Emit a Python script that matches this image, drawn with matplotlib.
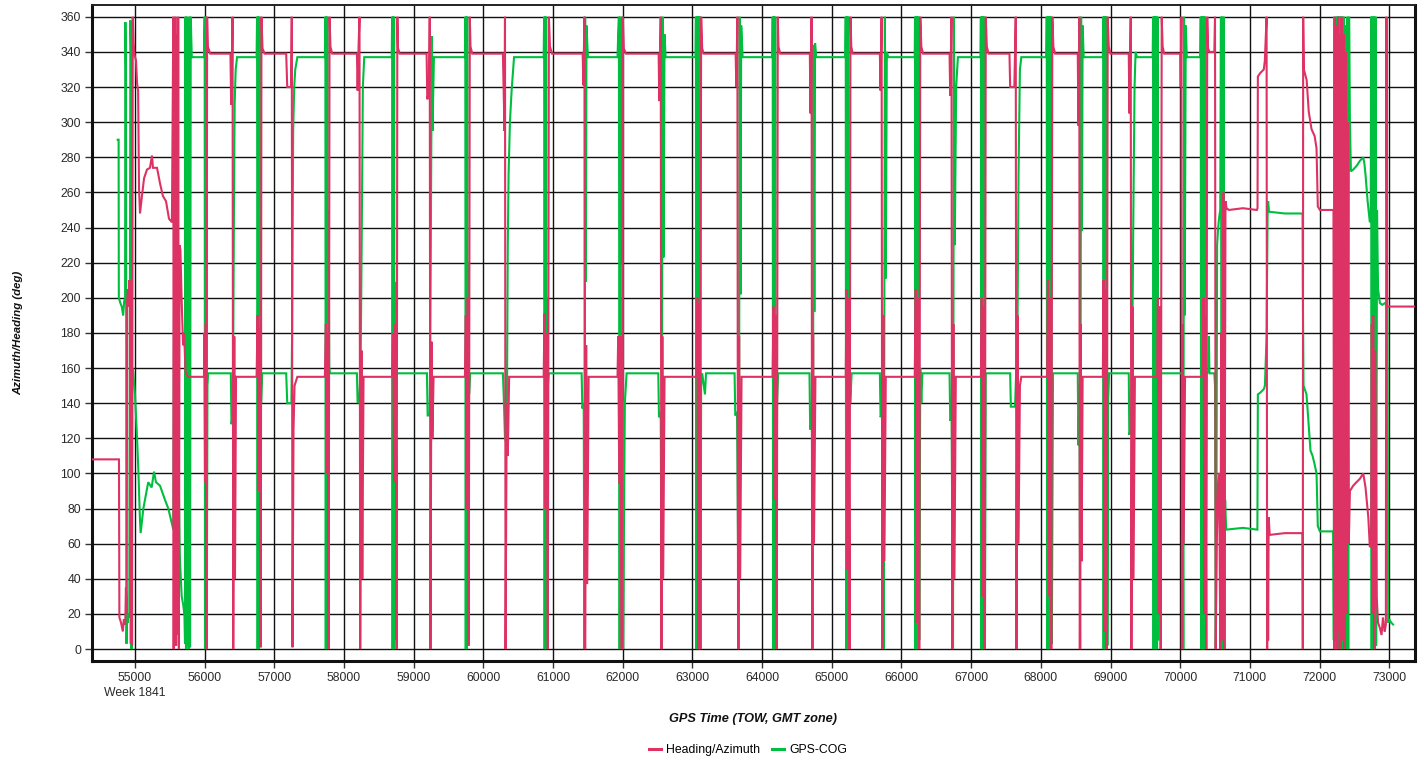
import matplotlib
matplotlib.use("Agg")
import matplotlib.pyplot as plt
import matplotlib.transforms as mtransforms
from matplotlib.lines import Line2D

plt.rcParams["font.family"] = ["Liberation Sans", "DejaVu Sans"]

# Heading/Azimuth trace as (GPS time of week, degrees)
heading = [
    (54383, 108), (54770, 108), (54776, 18), (54800, 15), (54825, 10), (54840, 17), (54860, 14),
    (54870, 35), (54880, 20), (54888, 198), (54900, 205), (54912, 195), (54920, 210), (54930, 200),
    (54940, 3), (54950, 205), (54958, 2), (54968, 360), (54980, 345), (54995, 338), (55015, 335),
    (55030, 322), (55045, 318), (55058, 262), (55072, 248), (55100, 258), (55130, 268), (55172, 273),
    (55215, 274), (55244, 281), (55258, 274), (55316, 274), (55360, 265), (55400, 258), (55445, 255),
    (55488, 245), (55530, 243),
    (55550, 360), (55555, 0), (55565, 355), (55572, 5), (55580, 360), (55590, 2), (55600, 350),
    (55610, 8), (55620, 360), (55630, 0), (55640, 230), (55652, 227), (55670, 198), (55690, 173),
    (55705, 180), (55725, 158), (55760, 155), (55990, 155),
    (55995, 180), (56005, 95), (56015, 185), (56025, 0), (56035, 360), (56045, 343), (56080, 339),
    (56370, 339), (56380, 310), (56392, 330), (56400, 360), (56410, 0), (56425, 178), (56435, 40), (56450, 155),
    (56745, 155), (56760, 190), (56775, 90), (56790, 183), (56805, 1), (56815, 360), (56830, 342), (56860, 339),
    (57170, 339), (57185, 320), (57240, 320), (57250, 360), (57260, 1), (57275, 125), (57290, 150), (57330, 155),
    (57725, 155), (57740, 185), (57752, 100), (57765, 180), (57780, 0), (57792, 360), (57805, 343), (57830, 339),
    (58185, 339), (58195, 318), (58210, 345), (58222, 360), (58232, 0), (58250, 170), (58262, 40), (58280, 155),
    (58690, 155), (58705, 180), (58718, 95), (58740, 185), (58755, 0), (58765, 360), (58775, 342), (58800, 339),
    (59185, 339), (59195, 313), (59220, 318), (59230, 360), (59240, 0), (59255, 175), (59268, 120), (59285, 155),
    (59735, 155), (59748, 190), (59760, 80), (59775, 200), (59790, 2), (59805, 360), (59815, 343), (59840, 339),
    (60280, 339), (60290, 321), (60303, 295), (60310, 360), (60318, 0), (60335, 140), (60350, 110), (60370, 155),
    (60865, 155), (60878, 191), (60890, 80), (60905, 180), (60925, 0), (60940, 360), (60955, 343), (60985, 339),
    (61425, 339), (61435, 321), (61450, 360), (61460, 0), (61475, 173), (61490, 37), (61510, 155),
    (61925, 155), (61935, 178), (61950, 94), (61965, 178), (61985, 0), (62000, 360), (62015, 342), (62045, 339),
    (62515, 339), (62525, 312), (62545, 360), (62555, 0), (62568, 178), (62580, 40), (62600, 155),
    (63055, 155), (63070, 200), (63085, 0), (63098, 197), (63110, 0), (63125, 360), (63140, 342), (63160, 339),
    (63620, 339), (63630, 320), (63645, 360), (63655, 0), (63670, 178), (63685, 40), (63705, 155),
    (64150, 155), (64165, 195), (64180, 85), (64195, 190), (64210, 0), (64225, 360), (64235, 343), (64260, 339),
    (64685, 339), (64695, 305), (64710, 360), (64718, 0), (64732, 180), (64745, 60), (64765, 155),
    (65200, 155), (65212, 205), (65225, 45), (65238, 200), (65255, 0), (65268, 360), (65280, 343), (65300, 339),
    (65690, 339), (65700, 318), (65715, 360), (65725, 0), (65740, 190), (65755, 50), (65775, 155),
    (66190, 155), (66205, 205), (66220, 15), (66235, 200), (66255, 0), (66270, 360), (66285, 343), (66310, 339),
    (66690, 339), (66700, 315), (66718, 360), (66728, 0), (66745, 185), (66760, 40), (66780, 155),
    (67140, 155), (67152, 200), (67165, 30), (67180, 195), (67195, 0), (67210, 360), (67225, 343), (67250, 339),
    (67550, 339), (67560, 320), (67620, 320), (67640, 360), (67650, 0), (67665, 190), (67680, 60), (67700, 150), (67720, 155),
    (68090, 155), (68102, 210), (68118, 30), (68135, 200), (68150, 0), (68165, 360), (68180, 343), (68205, 339),
    (68530, 339), (68540, 298), (68552, 360), (68560, 0), (68572, 185), (68585, 50), (68600, 155),
    (68890, 155), (68900, 210), (68915, 10), (68930, 205), (68945, 0), (68960, 360), (68975, 343), (69000, 339),
    (69262, 339), (69272, 305), (69290, 360), (69300, 0), (69315, 195), (69330, 40), (69350, 155),
    (69670, 155), (69680, 200), (69693, 20), (69705, 195), (69720, 0), (69735, 360), (69748, 343), (69770, 339),
    (70000, 339), (70008, 320), (70018, 360), (70025, 0), (70035, 185), (70050, 60), (70070, 155),
    (70320, 155), (70335, 200), (70348, 20), (70360, 190), (70375, 0), (70388, 360), (70400, 342), (70420, 340), (70490, 340),
    (70500, 360), (70510, 0), (70525, 60), (70545, 95), (70560, 100), (70575, 0), (70590, 180), (70605, 5),
    (70620, 260), (70635, 0), (70650, 255), (70665, 251), (70700, 250), (70900, 251), (71100, 250),
    (71110, 251), (71115, 326), (71150, 328), (71200, 330), (71215, 335), (71240, 360), (71248, 0),
    (71255, 70), (71262, 5), (71270, 75), (71285, 65), (71500, 66), (71750, 66),
    (71755, 65), (71760, 0), (71765, 360), (71775, 330), (71815, 324), (71845, 306), (71885, 296),
    (71930, 292), (71957, 285), (71975, 252), (72005, 250), (72190, 250),
    (72200, 250), (72210, 0), (72220, 360), (72230, 5), (72245, 355), (72255, 0), (72265, 360), (72275, 10),
    (72290, 350), (72300, 0), (72315, 360), (72330, 5), (72345, 350), (72360, 0), (72375, 340), (72390, 20),
    (72405, 300), (72420, 60), (72436, 90), (72483, 93), (72530, 95), (72580, 97), (72627, 100), (72660, 92),
    (72700, 75), (72722, 58), (72740, 60),
    (72750, 185), (72760, 20), (72770, 190), (72785, 0), (72800, 170), (72820, 30), (72840, 15), (72866, 12),
    (72890, 8), (72910, 18), (72935, 10), (72952, 14), (72960, 360), (72971, 195), (73373, 195),
]

# GPS course over ground, same time base
cog = [
    (54752, 290), (54765, 290), (54768, 200), (54790, 197), (54810, 195), (54830, 190), (54845, 198),
    (54858, 200), (54862, 357), (54870, 330), (54878, 3), (54885, 20), (54895, 15), (54905, 20), (54918, 18),
    (54928, 235), (54935, 358), (54942, 340), (54950, 0), (54960, 160), (54975, 158), (55000, 145),
    (55030, 120), (55050, 100), (55070, 75), (55081, 66), (55120, 80), (55167, 90), (55190, 95), (55239, 92),
    (55273, 101), (55301, 95), (55359, 93), (55430, 85), (55478, 80), (55526, 72), (55550, 68),
    (55560, 190), (55575, 60), (55590, 170), (55610, 140), (55625, 110), (55640, 60), (55646, 50), (55670, 30),
    (55693, 25), (55710, 19), (55718, 3), (55725, 360), (55732, 0), (55740, 360), (55750, 2), (55760, 358),
    (55770, 0), (55780, 360), (55790, 1), (55800, 360), (55815, 337), (55990, 337),
    (56000, 360), (56005, 0), (56012, 360), (56018, 0), (56025, 300), (56030, 0), (56040, 150), (56050, 157),
    (56375, 157), (56385, 128), (56405, 135), (56420, 250), (56430, 310), (56445, 330), (56465, 337),
    (56745, 337), (56752, 360), (56760, 0), (56768, 360), (56775, 0), (56782, 360), (56790, 2), (56800, 355),
    (56810, 140), (56825, 157),
    (57170, 157), (57185, 140), (57245, 140), (57255, 180), (57262, 240), (57270, 295), (57285, 320),
    (57300, 330), (57330, 337),
    (57725, 337), (57732, 360), (57738, 0), (57745, 360), (57752, 0), (57760, 360), (57768, 3), (57778, 250),
    (57788, 160), (57800, 157),
    (58185, 157), (58195, 140), (58222, 145), (58238, 160), (58255, 240), (58270, 320), (58290, 337),
    (58685, 337), (58690, 360), (58697, 0), (58704, 360), (58711, 0), (58718, 360), (58725, 5), (58735, 209),
    (58745, 155), (58760, 157),
    (59190, 157), (59200, 133), (59230, 133), (59245, 226), (59260, 349), (59270, 295), (59290, 337),
    (59735, 337), (59740, 360), (59747, 0), (59754, 360), (59761, 0), (59768, 360), (59775, 2), (59785, 220),
    (59795, 145), (59810, 157),
    (60280, 157), (60292, 144), (60310, 120), (60335, 116), (60350, 230), (60362, 271), (60381, 300),
    (60405, 318), (60440, 337),
    (60865, 337), (60872, 360), (60879, 0), (60886, 360), (60893, 0), (60900, 360), (60907, 0), (60915, 200),
    (60925, 150), (60940, 157),
    (61410, 157), (61420, 137), (61440, 140), (61450, 0), (61460, 360), (61470, 209), (61480, 355), (61500, 337),
    (61925, 337), (61935, 350), (61945, 360), (61955, 0), (61965, 360), (61988, 219), (61995, 360), (62005, 0),
    (62030, 140), (62055, 157),
    (62510, 157), (62520, 132), (62545, 135), (62560, 0), (62570, 360), (62585, 223), (62600, 350), (62615, 337),
    (63045, 337), (63050, 360), (63056, 0), (63062, 360), (63068, 0), (63074, 360), (63080, 0), (63086, 360),
    (63092, 0), (63098, 360), (63104, 0), (63110, 360), (63116, 0), (63125, 150), (63140, 157), (63180, 145),
    (63195, 157),
    (63605, 157), (63615, 133), (63640, 135), (63665, 0), (63678, 360), (63690, 202), (63700, 355), (63720, 337),
    (64148, 337), (64152, 360), (64158, 0), (64164, 360), (64170, 0), (64176, 360), (64182, 0), (64188, 360),
    (64195, 2), (64215, 140), (64230, 157),
    (64680, 157), (64690, 125), (64715, 130), (64728, 0), (64738, 344), (64750, 192), (64760, 345), (64775, 337),
    (65195, 337), (65200, 360), (65206, 0), (65212, 360), (65218, 0), (65224, 360), (65230, 0), (65236, 360),
    (65242, 0), (65250, 200), (65265, 140), (65285, 157),
    (65690, 157), (65700, 132), (65725, 135), (65745, 0), (65762, 360), (65775, 211), (65790, 340), (65810, 337),
    (66190, 337), (66195, 360), (66201, 0), (66207, 360), (66213, 0), (66219, 360), (66225, 0), (66231, 360),
    (66238, 0), (66248, 360), (66255, 5), (66270, 160), (66285, 140), (66300, 157),
    (66690, 157), (66700, 130), (66720, 132), (66740, 0), (66752, 360), (66765, 230), (66785, 320), (66810, 337),
    (67135, 337), (67140, 360), (67146, 0), (67152, 360), (67158, 0), (67164, 360), (67170, 0), (67176, 360),
    (67182, 0), (67190, 360), (67198, 2), (67210, 157),
    (67560, 157), (67570, 138), (67630, 138), (67640, 150), (67665, 180), (67680, 270), (67700, 330), (67720, 337),
    (68080, 337), (68085, 360), (68091, 0), (68097, 360), (68103, 0), (68109, 360), (68115, 0), (68121, 360),
    (68127, 0), (68133, 360), (68140, 0), (68150, 360), (68158, 3), (68175, 157),
    (68530, 157), (68540, 116), (68555, 150), (68565, 0), (68578, 360), (68590, 238), (68600, 355), (68615, 337),
    (68890, 337), (68895, 360), (68901, 0), (68907, 360), (68913, 0), (68919, 360), (68925, 0), (68931, 360),
    (68937, 0), (68945, 360), (68955, 2), (68965, 140), (68980, 157),
    (69262, 157), (69270, 122), (69290, 125), (69310, 160), (69330, 257), (69345, 320), (69360, 340), (69380, 337),
    (69605, 337), (69612, 360), (69618, 0), (69624, 360), (69630, 0), (69636, 360), (69642, 0), (69648, 360),
    (69654, 0), (69660, 360), (69668, 0), (69676, 360), (69685, 5), (69700, 157),
    (70035, 157), (70045, 0), (70055, 360), (70065, 190), (70080, 355), (70095, 337),
    (70290, 337), (70295, 360), (70301, 0), (70307, 360), (70313, 0), (70319, 360), (70325, 0), (70331, 360),
    (70337, 0), (70343, 360), (70350, 0), (70358, 360), (70365, 5), (70380, 157), (70405, 158), (70412, 178),
    (70420, 157), (70490, 157),
    (70500, 150), (70510, 0), (70520, 70), (70530, 230), (70545, 240), (70560, 246), (70575, 250), (70585, 360),
    (70595, 0), (70605, 360), (70615, 0), (70625, 360), (70635, 60), (70645, 85), (70660, 68), (70900, 69),
    (71100, 68),
    (71108, 68), (71115, 145), (71150, 146), (71200, 148), (71216, 150), (71240, 178), (71255, 250),
    (71262, 255), (71275, 249), (71500, 248), (71750, 248),
    (71756, 248), (71760, 205), (71770, 150), (71813, 145), (71840, 130), (71870, 113), (71900, 110),
    (71930, 105), (71957, 100), (71975, 70), (72005, 67), (72196, 67),
    (72205, 5), (72212, 360), (72220, 0), (72228, 250), (72236, 0), (72244, 360), (72252, 0), (72260, 360),
    (72268, 5), (72276, 360), (72284, 0), (72292, 360), (72300, 0), (72310, 360), (72320, 0), (72330, 360),
    (72340, 0), (72350, 360), (72362, 5), (72375, 355), (72388, 0), (72400, 360), (72412, 0), (72424, 360),
    (72436, 300), (72450, 272), (72483, 273), (72530, 275), (72580, 278), (72627, 280), (72645, 276),
    (72660, 270), (72690, 255), (72722, 243), (72735, 245),
    (72740, 360), (72748, 0), (72756, 360), (72764, 0), (72772, 360), (72780, 0), (72788, 360), (72796, 0),
    (72804, 360), (72812, 2), (72825, 250), (72840, 205), (72866, 197), (72900, 196), (72940, 197),
    (72975, 195), (72985, 15), (73000, 17), (73030, 15), (73055, 14),
]

x_ticks = list(range(55000, 73001, 1000))
y_ticks = list(range(0, 361, 20))
week_label = "Week 1841"

red = "#dd3264"
green = "#00bf3f"

fig = plt.figure(figsize=(14.24, 7.61), dpi=100)
ax = fig.add_axes([92 / 1424, 1 - 661 / 761, 1323 / 1424, 656 / 761])

ht, hv = zip(*heading)
ct, cv = zip(*cog)
ax.plot(ct, cv, color=green, lw=1.5, zorder=3, solid_joinstyle="miter")
ax.plot(ht, hv, color=red, lw=1.5, zorder=4, solid_joinstyle="miter")

ax.set_xlim(54383, 73370)
ax.set_ylim(-6.8, 366.7)
ax.set_xticks(x_ticks)
ax.set_yticks(y_ticks)
ax.grid(True, color="#111111", lw=1.0, zorder=1)
ax.set_axisbelow(True)

ax.tick_params(axis="both", direction="out", length=5, width=1, color="#333333",
               labelsize=8.8, labelcolor="#2a2a2a", pad=3)

for side in ["left", "bottom", "right"]:
    ax.spines[side].set_linewidth(2.2)
    ax.spines[side].set_color("#111111")
ax.spines["top"].set_linewidth(1.4)
ax.spines["top"].set_color("#222222")

# week number under the first tick
trans = mtransforms.blended_transform_factory(ax.transData, fig.transFigure)
ax.text(55000, 1 - 693 / 761, week_label, transform=trans, ha="center", va="center",
        fontsize=8.8, color="#2a2a2a")

fig.text(753 / 1424, 1 - 719 / 761, "GPS Time (TOW, GMT zone)", ha="center", va="center",
         fontsize=9.2, fontweight="bold", fontstyle="italic", color="#111111")
fig.text(18 / 1424, 1 - 333 / 761, "Azimuth/Heading (deg)", ha="center", va="center",
         rotation=90, fontsize=8.2, fontweight="bold", fontstyle="italic", color="#111111")

handles = [Line2D([], [], color=red, lw=2.2), Line2D([], [], color=green, lw=2.2)]
fig.legend(handles, ["Heading/Azimuth", "GPS-COG"], loc="center",
           bbox_to_anchor=(748 / 1424, 1 - 750 / 761), ncol=2, frameon=False,
           fontsize=8.8, handlelength=1.0, handletextpad=0.4, columnspacing=1.0)

fig.savefig("out.png", dpi=100)
